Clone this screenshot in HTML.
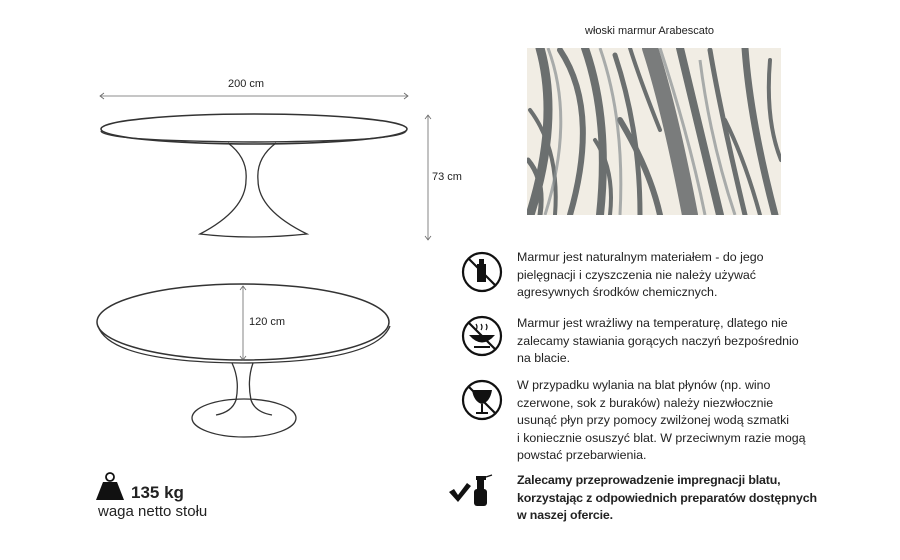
<!DOCTYPE html>
<html><head><meta charset="utf-8"><style>
body{margin:0;background:#fff;width:900px;height:560px;overflow:hidden;font-family:"Liberation Sans",sans-serif;color:#222}
.t{position:absolute;font-size:12.4px;line-height:17.5px;left:517px;color:#222}
</style></head><body>
<svg width="900" height="560" style="position:absolute;left:0;top:0" xmlns="http://www.w3.org/2000/svg">
<defs><clipPath id="mc"><rect x="527" y="48" width="254" height="167"/></clipPath></defs>
<g fill="none" stroke="#333" stroke-width="1.3">
<line x1="100" y1="96" x2="408" y2="96" stroke="#666" stroke-width="0.8"/>
<path d="M104 93 L100 96 L104 99 M404 93 L408 96 L404 99" stroke="#666" stroke-width="0.8"/>
<line x1="428" y1="115" x2="428" y2="240" stroke="#666" stroke-width="0.8"/>
<path d="M425 119 L428 115 L431 119 M425 236 L428 240 L431 236" stroke="#666" stroke-width="0.8"/>
<ellipse cx="254" cy="129" rx="153" ry="15" stroke-width="1.6"/>
<path d="M101 131 Q104 141 254 142 Q404 141 406 131" stroke-width="1.4"/>
<path d="M228 143 Q248 158 246 180 Q246 210 200 234 Q250 240 307 234 Q258 210 258 180 Q256 158 276 143"/>
<ellipse cx="243" cy="322" rx="146" ry="38" stroke-width="1.5"/>
<path d="M98 326 Q110 362 243 363 Q376 362 390 326" stroke-width="1.3"/>
<line x1="243" y1="286" x2="243" y2="360" stroke="#666" stroke-width="0.8"/>
<path d="M240 290 L243 286 L246 290 M240 356 L243 360 L246 356" stroke="#666" stroke-width="0.8"/>
<path d="M232 363 Q240 380 236 400 Q232 412 216 415"/>
<path d="M253 363 Q247 380 251 400 Q255 412 272 415"/>
<ellipse cx="244" cy="418" rx="52" ry="19"/>
</g>
<g clip-path="url(#mc)">
<rect x="527" y="48" width="254" height="167" fill="#f1ede4"/>
<g fill="none" stroke="#4a5052" stroke-linecap="round" opacity="0.8">
<path d="M540 48 Q560 120 530 215" stroke-width="9"/>
<path d="M560 50 Q600 110 570 215" stroke-width="6"/>
<path d="M585 48 Q610 120 600 215" stroke-width="8"/>
<path d="M615 55 Q640 130 640 215" stroke-width="5"/>
<path d="M650 48 Q670 110 690 215" stroke-width="16" stroke="#5d6163"/>
<path d="M680 48 Q700 130 720 215" stroke-width="8"/>
<path d="M710 50 Q720 110 745 215" stroke-width="5"/>
<path d="M745 48 Q750 120 775 215" stroke-width="7"/>
<path d="M530 110 Q560 150 555 215" stroke-width="4"/>
<path d="M620 120 Q650 170 660 215" stroke-width="6"/>
<path d="M770 60 Q765 120 781 160" stroke-width="4"/>
<path d="M528 160 Q545 180 540 215" stroke-width="5"/>
<path d="M595 140 Q615 170 610 215" stroke-width="4"/>
<path d="M725 120 Q745 160 760 215" stroke-width="4"/>
<path d="M630 48 Q640 80 660 130" stroke-width="4"/>
</g>
<g fill="none" stroke="#8a9092" stroke-width="3" opacity="0.7">
<path d="M548 48 Q575 120 545 215"/><path d="M600 48 Q625 120 620 215"/><path d="M700 60 Q710 140 735 215"/><path d="M660 48 Q690 140 705 215"/>
</g>
</g>
<g fill="none" stroke="#111" stroke-width="2.2">
<circle cx="482" cy="272" r="19"/><line x1="469" y1="259" x2="495" y2="285"/>
<circle cx="482" cy="336" r="19"/><line x1="469" y1="323" x2="495" y2="349"/>
<circle cx="482" cy="400" r="19"/><line x1="469" y1="387" x2="495" y2="413"/>
</g>
<rect x="477" y="264" width="9" height="18" fill="#111"/><rect x="479" y="259" width="5" height="5" fill="#111"/>
<path d="M469 335 Q482 350 495 335 Z" fill="#111"/><line x1="474" y1="347" x2="490" y2="347" stroke="#111" stroke-width="2"/>
<path d="M476 330 q2 -3 0 -6 M481 330 q2 -3 0 -6 M486 330 q2 -3 0 -6" stroke="#111" fill="none" stroke-width="1.2"/>
<path d="M472 390 L492 390 Q490 402 482 404 Q474 402 472 390 Z" fill="#111"/>
<line x1="482" y1="404" x2="482" y2="413" stroke="#111" stroke-width="2"/><line x1="476" y1="413" x2="488" y2="413" stroke="#111" stroke-width="2"/>
<path d="M449 492 L454 489 L458 495 L467 483 L471 486 L458 502 Z" fill="#111"/>
<rect x="474" y="489" width="13" height="17" rx="3" fill="#111"/><rect x="477" y="480" width="7" height="9" fill="#111"/><rect x="476" y="476" width="10" height="4" fill="#111"/>
<path d="M486 477 L492 475" stroke="#111" stroke-width="1.2"/>
<circle cx="110" cy="477" r="4" fill="none" stroke="#111" stroke-width="1.8"/>
<path d="M103 482 L117 482 L124 500 L96 500 Z" fill="#111"/>
</svg>
<div style="position:absolute;left:228px;top:78px;font-size:11px">200 cm</div>
<div style="position:absolute;left:432px;top:171px;font-size:11px">73 cm</div>
<div style="position:absolute;left:249px;top:316px;font-size:11px">120 cm</div>
<div style="position:absolute;left:585px;top:25px;font-size:11px">włoski marmur Arabescato</div>
<div style="position:absolute;left:131px;top:483px;font-size:17px;font-weight:bold">135 kg</div>
<div style="position:absolute;left:98px;top:503px;font-size:15px">waga netto stołu</div>
<div class="t" style="top:249px">Marmur jest naturalnym materiałem - do jego<br>pielęgnacji i czyszczenia nie należy używać<br>agresywnych środków chemicznych.</div>
<div class="t" style="top:315px">Marmur jest wrażliwy na temperaturę, dlatego nie<br>zalecamy stawiania gorących naczyń bezpośrednio<br>na blacie.</div>
<div class="t" style="top:377px">W przypadku wylania na blat płynów (np. wino<br>czerwone, sok z buraków) należy niezwłocznie<br>usunąć płyn przy pomocy zwilżonej wodą szmatki<br>i koniecznie osuszyć blat. W przeciwnym razie mogą<br>powstać przebarwienia.</div>
<div class="t" style="top:472px;font-weight:bold;letter-spacing:-0.15px">Zalecamy przeprowadzenie impregnacji blatu,<br>korzystając z odpowiednich preparatów dostępnych<br>w naszej ofercie.</div>
</body></html>
